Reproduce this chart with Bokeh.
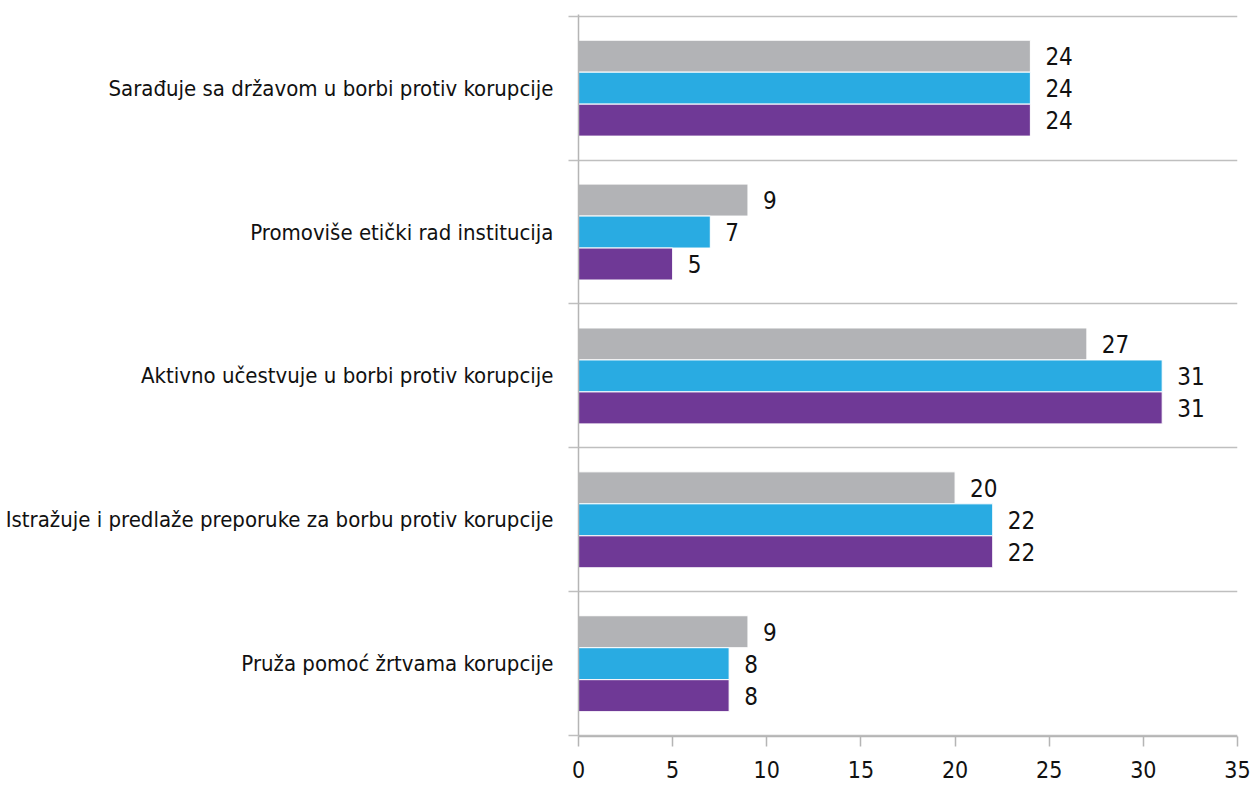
from bokeh.plotting import figure
from bokeh.models import ColumnDataSource, Range1d, FixedTicker
from bokeh.core.properties import value
from bokeh.embed import file_html
from bokeh.resources import INLINE

categories = [
    "Sarađuje sa državom u borbi protiv korupcije",
    "Promoviše etički rad institucija",
    "Aktivno učestvuje u borbi protiv korupcije",
    "Istražuje i predlaže preporuke za borbu protiv korupcije",
    "Pruža pomoć žrtvama korupcije",
]
series_gray = [24, 9, 27, 20, 9]
series_blue = [24, 7, 31, 22, 8]
series_purple = [24, 5, 31, 22, 8]
x_ticks = [0, 5, 10, 15, 20, 25, 30, 35]

FONT = "DejaVu Sans Condensed"
n = len(categories)
centers = [n - i - 0.5 for i in range(n)]

p = figure(width=1252, height=787, output_backend="svg", toolbar_location=None,
           x_range=Range1d(0, 35), y_range=Range1d(-0.006, n + 0.012),
           min_border_left=578, min_border_right=15, min_border_top=14, min_border_bottom=51)
p.outline_line_color = None
p.background_fill_color = "white"

bar_h = 0.2222
series = [(series_gray, "#b2b3b6", bar_h), (series_blue, "#29abe2", 0.0), (series_purple, "#6f3996", -bar_h)]
for vals, color, off in series:
    src = ColumnDataSource(dict(y=[c + off for c in centers], v=vals, lab=[str(v) for v in vals]))
    p.hbar(y="y", right="v", left=0, height=bar_h, source=src, fill_color=color,
           line_color="white", line_width=1)
    p.text(x="v", y="y", text="lab", source=src, x_offset=15, text_align="left",
           text_baseline="middle", text_font=value(FONT), text_font_size="24px", text_color="#111111")

# axes
p.xaxis.ticker = FixedTicker(ticks=x_ticks)
p.xaxis.axis_line_color = "#b5b5b5"
p.xaxis.axis_line_width = 1.5
p.xaxis.major_tick_line_color = "#b5b5b5"
p.xaxis.major_tick_line_width = 1.5
p.xaxis.major_tick_in = 0
p.xaxis.major_tick_out = 10
p.xaxis.minor_tick_line_color = None
p.xaxis.minor_tick_out = 0
p.xaxis.major_label_text_font = FONT
p.xaxis.major_label_text_font_size = "23px"
p.xaxis.major_label_text_color = "#111111"
p.xaxis.major_label_standoff = 14

p.yaxis.ticker = FixedTicker(ticks=centers, minor_ticks=list(range(n + 1)))
p.yaxis.major_label_overrides = {c: categories[i] for i, c in enumerate(centers)}
p.yaxis.axis_line_color = "#b5b5b5"
p.yaxis.axis_line_width = 1.5
p.yaxis.major_tick_line_color = None
p.yaxis.major_tick_in = 0
p.yaxis.major_tick_out = 0
p.yaxis.minor_tick_line_color = "#bfbfbf"
p.yaxis.minor_tick_line_width = 1.5
p.yaxis.minor_tick_in = 0
p.yaxis.minor_tick_out = 10
p.yaxis.major_label_text_font = FONT
p.yaxis.major_label_text_font_size = "22px"
p.yaxis.major_label_text_color = "#111111"
p.yaxis.major_label_standoff = 15

p.xgrid.grid_line_color = None
p.ygrid.ticker = FixedTicker(ticks=list(range(n + 1)))
p.ygrid.grid_line_color = "#bfbfbf"
p.ygrid.grid_line_width = 1.5

open("out.html", "w").write(file_html(p, INLINE))
